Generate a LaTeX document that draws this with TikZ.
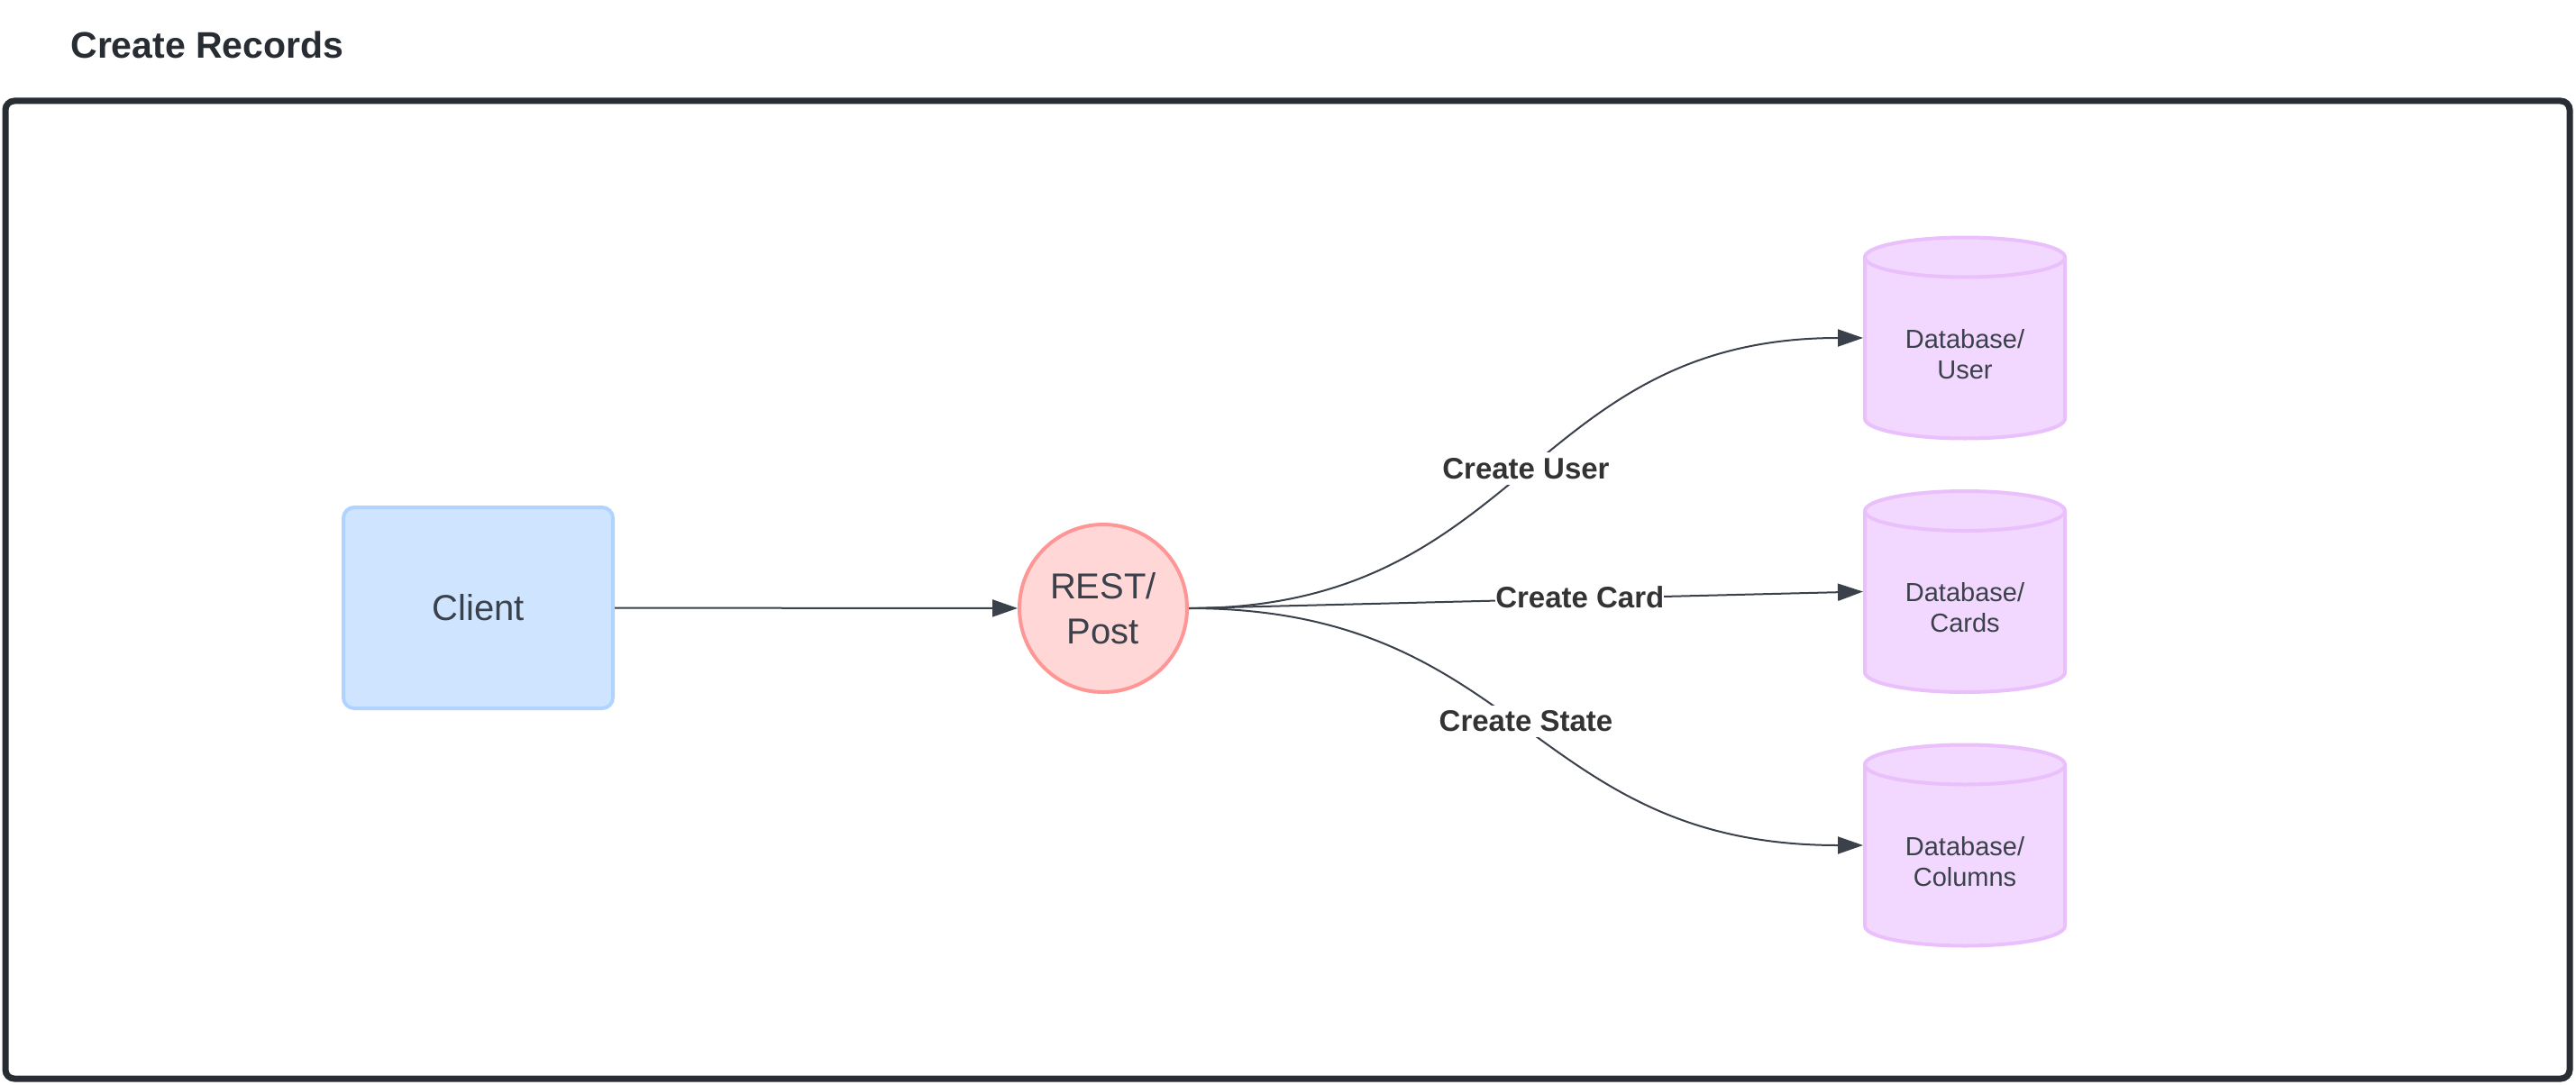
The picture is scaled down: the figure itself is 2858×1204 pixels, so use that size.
\documentclass[tikz,border=0pt]{standalone}
\usepackage{fontspec}
\setmainfont{Liberation Sans}
\usetikzlibrary{arrows.meta}
\definecolor{framec}{HTML}{282C33}
\definecolor{titlec}{HTML}{282C33}
\definecolor{textc}{HTML}{3A414A}
\definecolor{labelc}{HTML}{333333}
\definecolor{linec}{HTML}{3A414A}
\definecolor{clientfill}{HTML}{CFE4FF}
\definecolor{clientstroke}{HTML}{B0D4FF}
\definecolor{restfill}{HTML}{FFD7D7}
\definecolor{reststroke}{HTML}{FF9696}
\definecolor{dbfill}{HTML}{F2D8FE}
\definecolor{dbstroke}{HTML}{EAC0FC}
\newcommand\dbcyl[2]{%
  \path[dbshape] (#1-111,#2+89.5) -- (#1-111,#2-89.5)
    arc[start angle=180,end angle=360,x radius=55.5pt,y radius=11pt]
    -- (#1+111,#2+89.5)
    arc[start angle=0,end angle=180,x radius=55.5pt,y radius=11pt] -- cycle;
  \draw[dbshape,fill=none] (#1-111,#2+89.5)
    arc[start angle=180,end angle=360,x radius=55.5pt,y radius=11pt];
}
\begin{document}
\begin{tikzpicture}[x=0.5pt,y=0.5pt,
  clientbox/.style={rectangle, draw=clientstroke, fill=clientfill, line width=2pt,
    rounded corners=6pt, minimum width=149.5pt, minimum height=111.5pt,
    font=\fontsize{20}{25}\selectfont, text=textc},
  restnode/.style={circle, draw=reststroke, fill=restfill, line width=2pt,
    minimum size=93pt, inner sep=0pt, align=center,
    font=\fontsize{20}{25}\selectfont, text=textc},
  dbbox/.style={rectangle, minimum width=113pt, minimum height=113.5pt,
    inner sep=0pt, outer sep=0pt},
  dbtext/.style={font=\fontsize{14.5}{17}\selectfont, align=center, text=textc,
    yshift=-9pt, inner sep=0pt},
  dbshape/.style={draw=dbstroke, fill=dbfill, line width=2pt},
  flow/.style={draw=linec, line width=1pt, -{Triangle[length=14pt,width=9.5pt]}},
  edgelabel/.style={fill=white, inner xsep=0pt, inner ysep=3pt,
    font=\bfseries\fontsize{16.5}{20}\selectfont, text=labelc},
  titlestyle/.style={anchor=base west, inner sep=0pt,
    font=\bfseries\fontsize{20.5}{24}\selectfont, text=titlec},
  framestyle/.style={draw=framec, line width=3.5pt, rounded corners=5pt}
]
\useasboundingbox (0,0) rectangle (2858,-1204);
\fill[white] (0,0) rectangle (2858,-1204);

\node[titlestyle] (title) at (78,-65) {Create Records};
\draw[framestyle] (6,-112) rectangle (2851,-1197);

\node[clientbox] (client) at (530.5,-674.5) {Client};
\node[restnode] (rest) at (1224,-675) {REST/\\Post};

\dbcyl{2180}{-375}
\dbcyl{2180}{-656.5}
\dbcyl{2180}{-938}
\node[dbbox, label={[dbtext]center:{Database/\\User}}] (db1) at (2180,-375) {};
\node[dbbox, label={[dbtext]center:{Database/\\Cards}}] (db2) at (2180,-656.5) {};
\node[dbbox, label={[dbtext]center:{Database/\\Columns}}] (db3) at (2180,-938) {};

\draw[flow] (client) -- (rest);
\draw[flow] (rest.east) .. controls +(372,0) and +(-372,0) .. (db1.west)
  node[edgelabel, pos=0.5, yshift=2.5pt] {Create User};
\draw[flow] (rest.east) -- (db2.west)
  node[edgelabel, pos=0.58, yshift=1pt] {Create Card};
\draw[flow] (rest.east) .. controls +(372,0) and +(-372,0) .. (db3.west)
  node[edgelabel, pos=0.5, yshift=3pt] {Create State};
\end{tikzpicture}
\end{document}
